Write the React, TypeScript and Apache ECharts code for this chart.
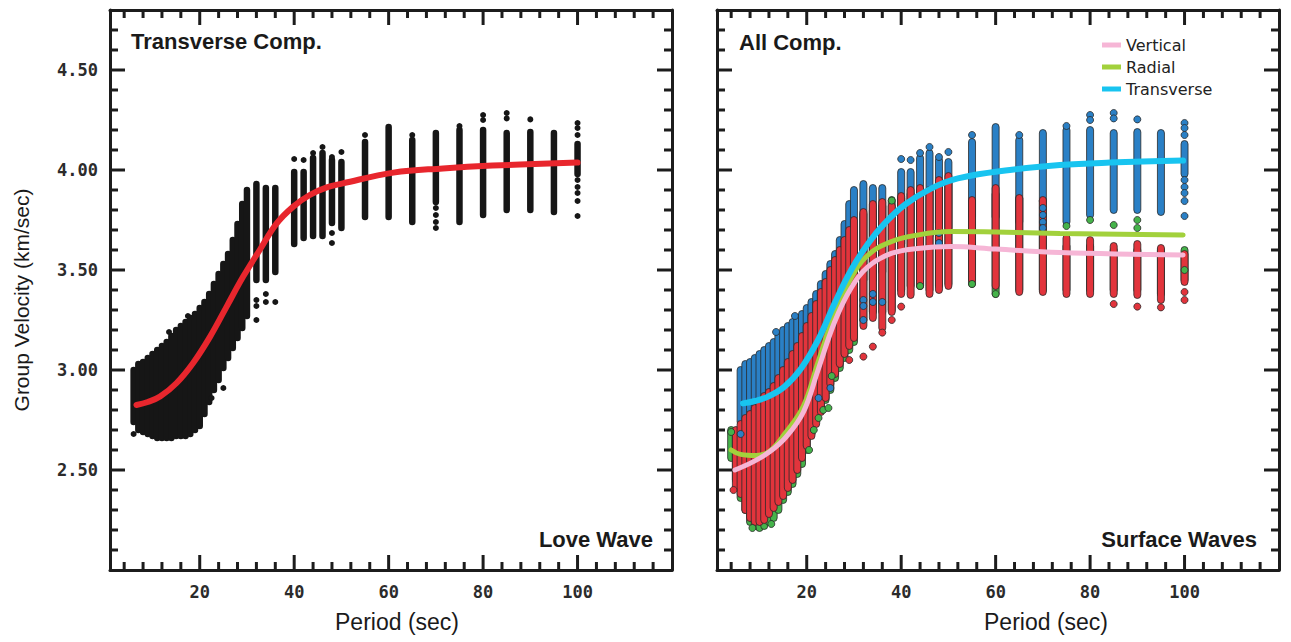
import React, { useEffect, useRef } from 'react';
import * as echarts from 'echarts';

// ---------- axis ranges & ticks ----------
const PERIOD_MIN = 1;
const PERIOD_MAX = 120;
const VELOCITY_MIN = 2.0;
const VELOCITY_MAX = 4.8;
const periodTicks = [20, 40, 60, 80, 100];
const periodMinorTicks = [4, 8, 12, 16, 24, 28, 32, 36, 44, 48, 52, 56, 64, 68, 72, 76, 84, 88, 92, 96, 104, 108, 112, 116];
const velocityTicks = [2.5, 3.0, 3.5, 4.0, 4.5];
const velocityMinorTicks = [2.1, 2.2, 2.3, 2.4, 2.6, 2.7, 2.8, 2.9, 3.1, 3.2, 3.3, 3.4, 3.6, 3.7, 3.8, 3.9, 4.1, 4.2, 4.3, 4.4, 4.6, 4.7];
const velocityMajorStep = 0.5;

// ---------- transverse (Love wave) measurements: spread per period ----------
const transversePeriods = [6, 7, 8, 9, 10, 11, 12, 13, 14, 15, 16, 17, 18, 19, 20, 21, 22, 23, 24, 25, 26, 27, 28, 29, 30, 32, 34, 36, 40, 42, 44, 46, 48, 50, 55, 60, 65, 70, 75, 80, 85, 90, 95, 100];
const transverseLow = [2.74, 2.70, 2.69, 2.68, 2.67, 2.66, 2.66, 2.66, 2.66, 2.67, 2.67, 2.67, 2.68, 2.70, 2.72, 2.78, 2.84, 2.90, 2.95, 3.01, 3.06, 3.11, 3.16, 3.21, 3.27, 3.45, 3.45, 3.49, 3.63, 3.66, 3.67, 3.67, 3.735, 3.71, 3.765, 3.765, 3.74, 3.84, 3.74, 3.775, 3.80, 3.80, 3.79, 3.98];
const transverseHigh = [3.00, 3.03, 3.04, 3.06, 3.08, 3.10, 3.12, 3.14, 3.17, 3.20, 3.22, 3.24, 3.26, 3.28, 3.31, 3.34, 3.38, 3.43, 3.48, 3.53, 3.58, 3.65, 3.73, 3.83, 3.90, 3.93, 3.91, 3.91, 3.99, 3.99, 4.06, 4.085, 4.05, 4.04, 4.14, 4.215, 4.15, 4.185, 4.20, 4.20, 4.185, 4.19, 4.185, 4.13];
const transverseDots = [[32, 3.35], [32, 3.32], [32, 3.25], [34, 3.38], [34, 3.34], [36, 3.34], [40, 4.055], [42, 4.05], [44, 4.085], [46, 4.115], [48, 4.065], [48, 3.685], [48, 3.635], [50, 4.09], [55, 4.175], [65, 4.175], [70, 3.81], [70, 3.775], [70, 3.74], [70, 3.71], [75, 4.22], [80, 4.275], [80, 4.25], [85, 4.285], [85, 4.258], [90, 4.253], [100, 4.235], [100, 4.21], [100, 4.175], [100, 3.95], [100, 3.915], [100, 3.885], [100, 3.845], [100, 3.77], [25, 2.91], [22.5, 2.86], [17.5, 3.27], [13.5, 3.19], [6, 2.68]];

// ---------- vertical (Rayleigh) measurements ----------
const verticalPeriods = [5, 6, 7, 8, 9, 10, 11, 12, 13, 14, 15, 16, 17, 18, 19, 20, 21, 22, 23, 24, 25, 26, 27, 28, 29, 30, 32, 34, 36, 38, 40, 42, 44, 46, 48, 50, 55, 60, 65, 70, 75, 80, 85, 90, 95, 100];
const verticalLow = [2.42, 2.38, 2.30, 2.26, 2.24, 2.24, 2.25, 2.28, 2.31, 2.34, 2.37, 2.41, 2.45, 2.50, 2.56, 2.62, 2.67, 2.73, 2.79, 2.86, 2.93, 2.98, 3.03, 3.08, 3.12, 3.16, 3.22, 3.26, 3.21, 3.29, 3.38, 3.375, 3.42, 3.38, 3.40, 3.42, 3.45, 3.42, 3.39, 3.39, 3.38, 3.38, 3.38, 3.375, 3.35, 3.44];
const verticalHigh = [2.70, 2.73, 2.76, 2.78, 2.81, 2.84, 2.87, 2.89, 2.92, 2.96, 3.00, 3.04, 3.08, 3.12, 3.17, 3.22, 3.27, 3.33, 3.39, 3.44, 3.50, 3.55, 3.60, 3.65, 3.70, 3.75, 3.79, 3.83, 3.84, 3.82, 3.87, 3.90, 3.91, 3.90, 3.95, 3.97, 3.85, 3.91, 3.86, 3.85, 3.66, 3.65, 3.62, 3.63, 3.61, 3.58];
const verticalDots = [[29, 3.05], [32, 3.067], [34, 3.117], [36, 3.187], [38, 3.25], [40, 3.317], [85, 3.33], [90, 3.317], [95, 3.313], [100, 3.39], [100, 3.35], [4.5, 2.40]];

// ---------- radial measurements ----------
const radialPeriods = [4, 5, 6, 7, 8, 9, 10, 11, 12, 13, 14, 15, 16, 17, 18, 19, 20, 21, 22, 23, 24, 25, 26, 27, 28, 29, 30, 32, 34, 36, 38, 40, 42, 44, 46, 48, 50, 55, 60, 65, 70, 75, 80, 85, 90, 95, 100];
const radialLow = [2.56, 2.45, 2.36, 2.30, 2.24, 2.22, 2.21, 2.22, 2.24, 2.26, 2.30, 2.35, 2.39, 2.43, 2.48, 2.53, 2.60, 2.68, 2.75, 2.81, 2.85, 2.90, 2.96, 3.01, 3.06, 3.10, 3.14, 3.25, 3.29, 3.29, 3.30, 3.40, 3.42, 3.42, 3.40, 3.42, 3.43, 3.43, 3.38, 3.40, 3.40, 3.40, 3.40, 3.40, 3.40, 3.38, 3.45];
const radialHigh = [2.70, 2.68, 2.70, 2.72, 2.75, 2.78, 2.80, 2.83, 2.86, 2.89, 2.93, 2.97, 3.01, 3.05, 3.09, 3.14, 3.19, 3.24, 3.30, 3.36, 3.42, 3.48, 3.53, 3.58, 3.63, 3.68, 3.72, 3.78, 3.80, 3.82, 3.85, 3.86, 3.88, 3.90, 3.89, 3.92, 3.94, 3.85, 3.88, 3.86, 3.85, 3.62, 3.62, 3.60, 3.60, 3.60, 3.60];
const radialDots = [[4, 2.69], [8.5, 2.21], [12.5, 2.23], [20.5, 2.60], [21.5, 2.70], [22.5, 2.76], [23.5, 2.80], [24.6, 2.81], [25.3, 2.97], [38, 3.847], [44, 3.42], [75, 3.72], [80, 3.75], [85, 3.725], [90, 3.75], [90, 3.71], [100, 3.50], [60, 3.38], [55, 3.43]];

// ---------- fitted curves ----------
const loveFitPeriods = [6.6, 9, 11.6, 15.1, 18.6, 22.2, 25.7, 29.2, 32.7, 36.3, 39.8, 43.3, 46.9, 50.3, 61, 71.5, 82, 100];
const loveFitVelocity = [2.825, 2.84, 2.867, 2.935, 3.035, 3.167, 3.317, 3.467, 3.6, 3.733, 3.817, 3.875, 3.913, 3.933, 3.987, 4.008, 4.022, 4.037];
const transverseFitPeriods = [6.5, 9, 11.8, 15.3, 18.8, 22.4, 25.9, 29.4, 33, 36.5, 40.7, 46.4, 52, 63, 73.6, 84.2, 99.7];
const transverseFitVelocity = [2.833, 2.845, 2.867, 2.917, 3.008, 3.15, 3.333, 3.5, 3.633, 3.733, 3.825, 3.908, 3.958, 4.0, 4.025, 4.037, 4.047];
const verticalFitPeriods = [4.8, 8.7, 12.2, 15.7, 19.3, 22.4, 25.9, 29.4, 33, 37.9, 43.5, 50.6, 60, 73.6, 99.7];
const verticalFitVelocity = [2.5, 2.542, 2.592, 2.667, 2.79, 3.0, 3.24, 3.41, 3.517, 3.583, 3.608, 3.617, 3.605, 3.587, 3.575];
const radialFitPeriods = [4, 6, 9.4, 12.2, 15.3, 19.3, 22.4, 25.9, 29.4, 33, 37.9, 43.5, 50.6, 60, 73.6, 99.7];
const radialFitVelocity = [2.6, 2.578, 2.572, 2.595, 2.68, 2.82, 3.04, 3.28, 3.46, 3.575, 3.642, 3.675, 3.692, 3.69, 3.683, 3.675];

// ---------- styling ----------
const AX = '#1c1c1c';
const BLACK_DOT = '#161616';
const BLUE = '#2a80c6';
const RED = '#e2343c';
const GREEN = '#45b34a';
const OUTLINE = '#2a2a2a';

const tickFont = { fontFamily: 'DejaVu Sans Mono', fontWeight: 'bold', fontSize: 17, color: '#2b2b2b' };

// category scaffold: one slot per integer period, so labels sit exactly on 20, 40, ...
const periodSlots: string[] = [];
for (let p = PERIOD_MIN; p <= PERIOD_MAX; p++) periodSlots.push(String(p));
const isLabelPeriod = (_i: number, v: string) => periodTicks.includes(Number(v));

function buildXAxes(gridIndex: number, nameShift: number) {
  const lineOn = { show: true, onZero: false, lineStyle: { color: AX, width: 3 } };
  const cat = { type: 'category', gridIndex, data: periodSlots, boundaryGap: false, splitLine: { show: false }, axisTick: { show: false } };
  return [
    { type: 'value', gridIndex, min: PERIOD_MIN, max: PERIOD_MAX, show: false, splitLine: { show: false } },
    {
      ...cat, position: 'bottom', axisLine: lineOn,
      axisLabel: { show: true, interval: isLabelPeriod, margin: 13, ...tickFont },
      name: 'Period (sec)', nameLocation: 'middle', nameGap: 40,
      nameTextStyle: { fontFamily: 'Liberation Sans', fontSize: 23, color: '#1a1a1a', padding: [0, 0, 0, nameShift] },
    },
    { ...cat, position: 'top', axisLine: lineOn, axisLabel: { show: false } },
  ];
}

const velocityLabel = (v: number) => (velocityTicks.some((t) => Math.abs(t - v) < 1e-6) ? v.toFixed(2) : '');

function buildYAxes(gridIndex: number, withLabels: boolean) {
  const base = { type: 'value', gridIndex, min: VELOCITY_MIN, max: VELOCITY_MAX, interval: velocityMajorStep, splitLine: { show: false }, axisTick: { show: false } };
  const lineOn = { show: true, onZero: false, lineStyle: { color: AX, width: 3 } };
  const main: any = {
    ...base, position: 'left', axisLine: lineOn,
    axisLabel: withLabels ? { show: true, margin: 12, formatter: velocityLabel, ...tickFont } : { show: false },
  };
  if (withLabels) {
    main.name = 'Group Velocity (km/sec)';
    main.nameLocation = 'middle';
    main.nameGap = 78;
    main.nameTextStyle = { fontFamily: 'Liberation Sans', fontSize: 21, color: '#1a1a1a', padding: [0, 20, 0, 0] };
  }
  return [main, { ...base, position: 'right', axisLine: lineOn, axisLabel: { show: false } }];
}

// inward tick marks placed through the axis scales, on both opposite frame sides
function tickSeries(name: string, values: number[], horizontalAxis: boolean, len: number, xi: number, yi: number) {
  return {
    type: 'custom',
    name,
    xAxisIndex: xi,
    yAxisIndex: yi,
    silent: true,
    z: 5,
    data: values.map((v) => (horizontalAxis ? [v, VELOCITY_MIN] : [PERIOD_MIN, v])),
    encode: { x: 0, y: 1 },
    renderItem: (_params: any, api: any) => {
      const style = { stroke: AX, lineWidth: 3 };
      if (horizontalAxis) {
        const b = api.coord([api.value(0), VELOCITY_MIN]);
        const t = api.coord([api.value(0), VELOCITY_MAX]);
        return {
          type: 'group',
          children: [
            { type: 'line', shape: { x1: b[0], y1: b[1], x2: b[0], y2: b[1] - len }, style },
            { type: 'line', shape: { x1: t[0], y1: t[1], x2: t[0], y2: t[1] + len }, style },
          ],
        };
      }
      const l = api.coord([PERIOD_MIN, api.value(1)]);
      const r = api.coord([PERIOD_MAX, api.value(1)]);
      return {
        type: 'group',
        children: [
          { type: 'line', shape: { x1: l[0], y1: l[1], x2: l[0] + len, y2: l[1] }, style },
          { type: 'line', shape: { x1: r[0], y1: r[1], x2: r[0] - len, y2: r[1] }, style },
        ],
      };
    },
  };
}

function rangeSeries(name: string, periods: number[], lows: number[], highs: number[], xi: number, yi: number, fill: string, stroke: string | null, w: number) {
  return {
    type: 'custom',
    name,
    xAxisIndex: xi,
    yAxisIndex: yi,
    data: periods.map((p, i) => [p, lows[i], highs[i]]),
    encode: { x: 0, y: [1, 2] },
    silent: true,
    renderItem: (_params: any, api: any) => {
      const top = api.coord([api.value(0), api.value(2)]);
      const bot = api.coord([api.value(0), api.value(1)]);
      return {
        type: 'rect',
        shape: { x: top[0] - w / 2, y: top[1] - w / 2, width: w, height: bot[1] - top[1] + w, r: w / 2 },
        style: stroke ? { fill, stroke, lineWidth: 0.8 } : { fill },
      };
    },
  };
}

function dotSeries(name: string, dots: number[][], xi: number, yi: number, fill: string, stroke: string | null, size: number) {
  return {
    type: 'scatter',
    name,
    xAxisIndex: xi,
    yAxisIndex: yi,
    data: dots,
    symbolSize: size,
    silent: true,
    itemStyle: stroke ? { color: fill, borderColor: stroke, borderWidth: 0.8, opacity: 1 } : { color: fill, opacity: 1 },
  };
}

function curveSeries(name: string, periods: number[], values: number[], xi: number, yi: number, color: string, width: number) {
  return {
    type: 'line',
    name,
    xAxisIndex: xi,
    yAxisIndex: yi,
    data: periods.map((p, i) => [p, values[i]]),
    smooth: 0.4,
    showSymbol: false,
    symbol: 'none',
    silent: true,
    itemStyle: { color },
    lineStyle: { color, width, cap: 'round' },
  };
}

function frameTicks(xi: number, yi: number, tag: string) {
  return [
    tickSeries(`${tag} period ticks`, periodTicks, true, 15, xi, yi),
    tickSeries(`${tag} period minor ticks`, periodMinorTicks, true, 8, xi, yi),
    tickSeries(`${tag} velocity ticks`, velocityTicks, false, 15, xi, yi),
    tickSeries(`${tag} velocity minor ticks`, velocityMinorTicks, false, 8, xi, yi),
  ];
}

export default function App() {
  const ref = useRef<HTMLDivElement>(null);
  useEffect(() => {
    if (!ref.current) return;
    const chart = echarts.init(ref.current, null, { renderer: 'svg' });
    // left panel data axes: x 0, y 0 ; right panel: x 3, y 2
    const LX = 0, LY = 0, RX = 3, RY = 2;
    const option: any = {
      animation: false,
      backgroundColor: '#ffffff',
      grid: [
        { left: 110, top: 10, width: 562, height: 560 },
        { left: 717, top: 10, width: 562, height: 560 },
      ],
      xAxis: [...buildXAxes(0, 12), ...buildXAxes(1, 96)],
      yAxis: [...buildYAxes(0, true), ...buildYAxes(1, false)],
      legend: {
        data: ['Vertical', 'Radial', 'Transverse'],
        orient: 'vertical',
        left: 1102,
        top: 35,
        padding: 0,
        itemWidth: 19,
        itemHeight: 5,
        itemGap: 2,
        icon: 'rect',
        selectedMode: false,
        textStyle: { fontFamily: 'DejaVu Sans', fontSize: 16, color: '#222', lineHeight: 20 },
      },
      graphic: [
        { type: 'text', x: 131, y: 41, style: { text: 'Transverse Comp.', fontFamily: 'Liberation Sans', fontWeight: 'bold', fontSize: 22, fill: '#1a1a1a', align: 'left', verticalAlign: 'middle' } },
        { type: 'text', x: 653, y: 539, style: { text: 'Love Wave', fontFamily: 'Liberation Sans', fontWeight: 'bold', fontSize: 22, fill: '#1a1a1a', align: 'right', verticalAlign: 'middle' } },
        { type: 'text', x: 739, y: 42, style: { text: 'All Comp.', fontFamily: 'Liberation Sans', fontWeight: 'bold', fontSize: 22, fill: '#1a1a1a', align: 'left', verticalAlign: 'middle' } },
        { type: 'text', x: 1257, y: 539, style: { text: 'Surface Waves', fontFamily: 'Liberation Sans', fontWeight: 'bold', fontSize: 22, fill: '#1a1a1a', align: 'right', verticalAlign: 'middle' } },
      ],
      series: [
        // left panel
        ...frameTicks(LX, LY, 'Left'),
        rangeSeries('Love wave measurements', transversePeriods, transverseLow, transverseHigh, LX, LY, BLACK_DOT, null, 6.5),
        dotSeries('Love wave isolated', transverseDots, LX, LY, BLACK_DOT, null, 6),
        curveSeries('Love wave fit', loveFitPeriods, loveFitVelocity, LX, LY, '#e8262d', 6),
        // right panel
        ...frameTicks(RX, RY, 'Right'),
        rangeSeries('Radial measurements', radialPeriods, radialLow, radialHigh, RX, RY, GREEN, OUTLINE, 7),
        dotSeries('Radial isolated', radialDots, RX, RY, GREEN, OUTLINE, 7),
        rangeSeries('Transverse measurements', transversePeriods, transverseLow, transverseHigh, RX, RY, BLUE, OUTLINE, 7),
        dotSeries('Transverse isolated', transverseDots, RX, RY, BLUE, OUTLINE, 7),
        rangeSeries('Vertical measurements', verticalPeriods, verticalLow, verticalHigh, RX, RY, RED, OUTLINE, 7),
        dotSeries('Vertical isolated', verticalDots, RX, RY, RED, OUTLINE, 7),
        curveSeries('Radial', radialFitPeriods, radialFitVelocity, RX, RY, '#a2d13c', 5),
        curveSeries('Vertical', verticalFitPeriods, verticalFitVelocity, RX, RY, '#f6b6d6', 5),
        curveSeries('Transverse', transverseFitPeriods, transverseFitVelocity, RX, RY, '#18c4f0', 6),
      ],
    };
    chart.setOption(option);
    return () => chart.dispose();
  }, []);
  return <div ref={ref} style={{ position: 'absolute', left: 0, top: 0, width: 1291, height: 642, background: '#fff' }} />;
}
